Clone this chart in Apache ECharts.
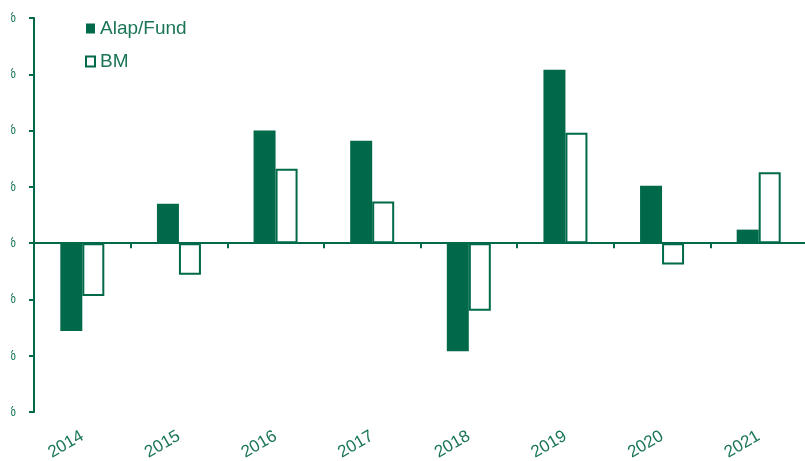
<!DOCTYPE html>
<html>
<head>
<meta charset="utf-8">
<script src="https://cdn.jsdelivr.net/npm/echarts@6/dist/echarts.min.js"></script>
<style>
html,body{margin:0;padding:0;background:#fff;}
#chart{width:805px;height:461px;}
</style>
</head>
<body>
<div id="chart"></div>
<script>
var categories = ['2014','2015','2016','2017','2018','2019','2020','2021'];
var fundValues = [-7.8, 3.5, 10.0, 9.1, -9.6, 15.4, 5.1, 1.2];
var bmValues = [-4.7, -2.8, 6.6, 3.7, -6.0, 9.8, -1.9, 6.3];
var yMin = -15, yMax = 20, yStep = 5;

var green = '#00694A';
var chart = echarts.init(document.getElementById('chart'));
chart.setOption({
  animation: false,
  backgroundColor: '#fff',
  grid: {left: 34, right: -2, top: 18, bottom: 49, containLabel: false, outerBoundsMode: 'none'},
  legend: {
    orient: 'vertical', left: 80, top: 14, itemWidth: 9, itemHeight: 10, itemGap: 14, icon: 'rect',
    textStyle: {color: '#1a7558', fontSize: 19, fontFamily: 'Liberation Sans'},
    data: ['Alap/Fund', 'BM']
  },
  xAxis: [
    {
      type: 'category', data: categories, position: 'bottom', gridIndex: 0,
      axisLine: {show: false, onZero: false}, axisTick: {show: false}, splitLine: {show: false},
      axisLabel: {rotate: 30, margin: 23, color: '#1a7558', fontSize: 17, fontFamily: 'Liberation Sans'}
    },
    {
      type: 'category', data: categories, position: 'top', gridIndex: 0, z: 5,
      axisLine: {show: true, onZero: true, lineStyle: {color: green, width: 2}},
      axisTick: {show: true, inside: true, length: 5, lineStyle: {color: green, width: 2}},
      axisLabel: {show: false}, splitLine: {show: false}
    }
  ],
  yAxis: {
    type: 'value', min: yMin, max: yMax, interval: yStep,
    axisLine: {show: true, onZero: false, lineStyle: {color: green, width: 2}},
    axisTick: {show: true, length: 5, lineStyle: {color: green, width: 2}},
    splitLine: {show: false},
    axisLabel: {formatter: '{value}%', margin: 18, color: '#1a7558', fontSize: 14, fontFamily: 'Liberation Sans'}
  },
  graphic: [{type: 'rect', left: 0, top: 0, shape: {x: 0, y: 0, width: 11, height: 461}, style: {fill: '#fff'}, z: 100}],
  series: [
    {
      name: 'Alap/Fund', type: 'bar', xAxisIndex: 1, data: fundValues,
      barWidth: 22, barGap: '0%',
      itemStyle: {color: green, borderColor: '#ffffff', borderWidth: 0}
    },
    {
      name: 'BM', type: 'bar', xAxisIndex: 1, data: bmValues,
      barWidth: 22, barGap: '0%',
      itemStyle: {color: '#ffffff', borderColor: green, borderWidth: 2}
    }
  ]
});
</script>
</body>
</html>
